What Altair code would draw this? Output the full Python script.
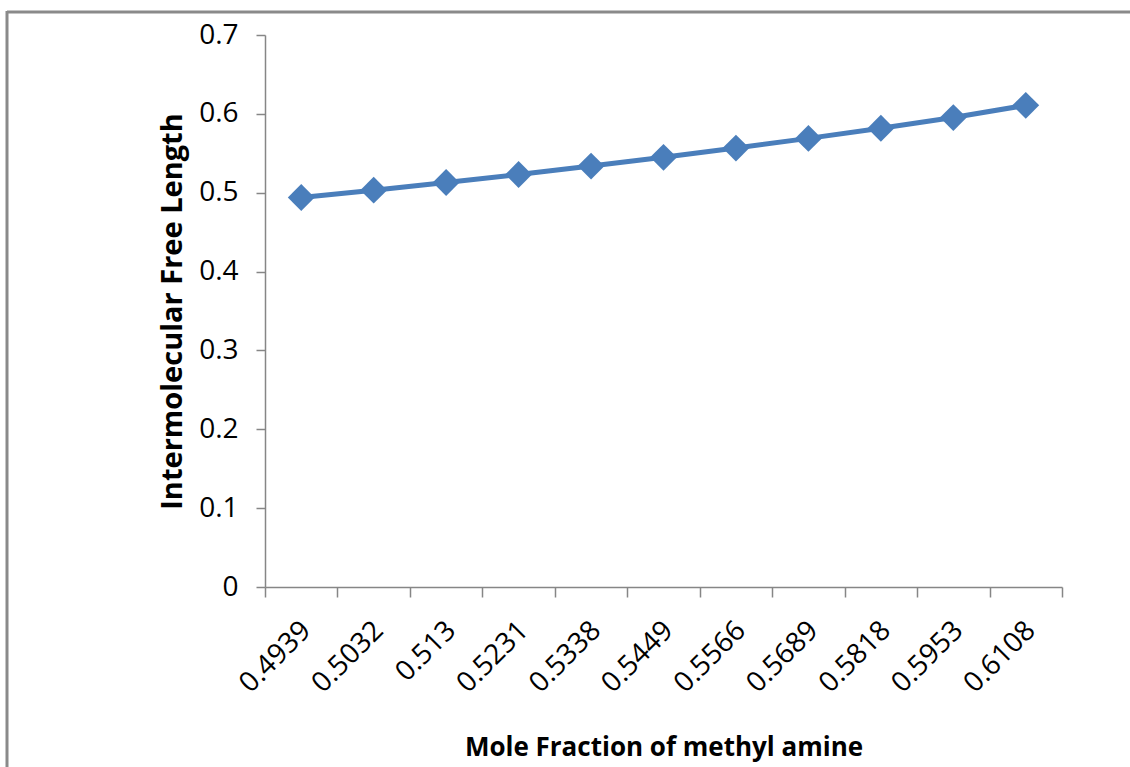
import altair as alt
import pandas as pd

mole_fraction = ["0.4939", "0.5032", "0.513", "0.5231", "0.5338", "0.5449",
                 "0.5566", "0.5689", "0.5818", "0.5953", "0.6108"]
free_length = [0.4939, 0.5032, 0.513, 0.5231, 0.5338, 0.5449,
               0.5566, 0.5689, 0.5818, 0.5953, 0.6108]

df = pd.DataFrame({"x": mole_fraction, "y": free_length})

W, H = 797, 552
FONT = "Open Sans"
BLUE = "#4a7ebb"
GRAY = "#868686"

x_enc = alt.X(
    "x:N", sort=None,
    scale=alt.Scale(paddingInner=0, paddingOuter=0),
    axis=alt.Axis(
        title="Mole Fraction of methyl amine",
        labelAngle=-45, labelAlign="right", labelBaseline="middle",
        labelFont=FONT, labelFontSize=28, labelColor="#000000",
        labelPadding=29, labelOffset=5, tickSize=10, tickBand="extent",
        tickColor=GRAY, domainColor=GRAY, tickWidth=1.5, domainWidth=1.5,
        titleFont=FONT, titleFontSize=26, titleFontWeight="bold",
        titleColor="#000000", titleY=168, titleBaseline="alphabetic",
        grid=False,
    ),
)
y_enc = alt.Y(
    "y:Q",
    scale=alt.Scale(domain=[0, 0.7], nice=False, zero=True),
    axis=alt.Axis(
        title="Intermolecular Free Length",
        values=[0, 0.1, 0.2, 0.3, 0.4, 0.5, 0.6, 0.7], format="~g",
        labelFont=FONT, labelFontSize=28, labelColor="#000000",
        labelPadding=18, tickSize=9,
        tickColor=GRAY, domainColor=GRAY, tickWidth=1.5, domainWidth=1.5,
        titleFont=FONT, titleFontSize=29, titleFontWeight="bold",
        titleColor="#000000", titleAngle=-90, titleX=-93, titleY=276,
        titleAlign="center", titleBaseline="middle",
        grid=False,
    ),
)

base = alt.Chart(df)
line = base.mark_line(color=BLUE, strokeWidth=5).encode(x=x_enc, y=y_enc)
pts = base.mark_point(shape="diamond", filled=True, size=720, color=BLUE, opacity=1).encode(x=x_enc, y=y_enc)

frame_data = alt.Data(values=[{"k": 1}])
top_rule = alt.Chart(frame_data).mark_rule(color="#8a8a8a", strokeWidth=3).encode(
    x=alt.value(-258), x2=alt.value(1130 - 265), y=alt.value(-23)
)
left_rule = alt.Chart(frame_data).mark_rule(color="#8a8a8a", strokeWidth=3).encode(
    x=alt.value(-258), y=alt.value(-24), y2=alt.value(767 - 35)
)

chart = alt.layer(line, pts, top_rule, left_rule).properties(
    width=W, height=H,
    background="white",
    autosize=alt.AutoSizeParams(type="none"),
    padding={"left": 265, "top": 35, "right": 1130 - 265 - W, "bottom": 767 - 35 - H},
).configure_view(strokeWidth=0)

chart.save("out.html", embed_options={"renderer": "svg", "actions": False})
